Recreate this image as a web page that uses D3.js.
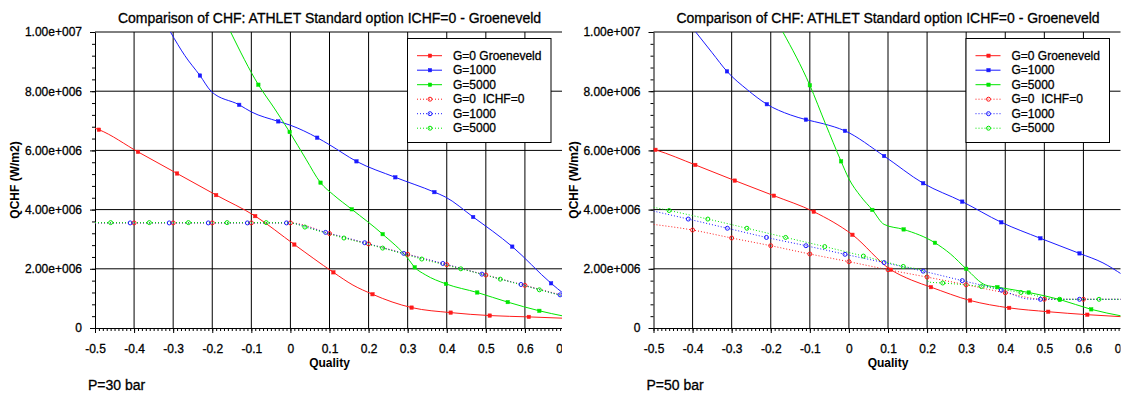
<!DOCTYPE html>
<html><head><meta charset="utf-8">
<script src="https://cdn.jsdelivr.net/npm/d3@7"></script>
<style>
html,body{margin:0;padding:0;background:#fff;}
svg{display:block;font-family:"Liberation Sans",Arial,sans-serif;}
text.t{stroke:#000;stroke-width:0.3px;}
</style></head><body>
<svg id="c" width="1127" height="405"></svg>
<script>
// ---------------- texts & ticks ----------------
const chartTitle = "Comparison of CHF: ATHLET Standard option ICHF=0 - Groeneveld";
const xLabel = "Quality";
const yLabel = "QCHF (W/m2)";
const panelLabels = ["P=30 bar", "P=50 bar"];
const xTicks = [-0.5, -0.4, -0.3, -0.2, -0.1, 0, 0.1, 0.2, 0.3, 0.4, 0.5, 0.6, 0.7];
const xTickLabels = ["-0.5", "-0.4", "-0.3", "-0.2", "-0.1", "0", "0.1", "0.2", "0.3", "0.4", "0.5", "0.6", "0.7"];
const yTicks = [0, 2e6, 4e6, 6e6, 8e6, 1e7];
const yTickLabels = ["0", "2.00e+006", "4.00e+006", "6.00e+006", "8.00e+006", "1.00e+007"];
const legendLabels = ["G=0 Groeneveld", "G=1000", "G=5000", "G=0  ICHF=0", "G=1000", "G=5000"];

// ---------------- data: [quality, QCHF, marker(1/0)] ----------------
// P = 30 bar, Groeneveld
const p30_groen_G0 = [[-0.5,6.75e6,0],[-0.49,6.70e6,1],[-0.39,5.95e6,1],[-0.29,5.22e6,1],[-0.19,4.49e6,1],[-0.09,3.78e6,1],[0.01,2.82e6,1],[0.11,1.88e6,1],[0.16,1.45e6,0],[0.21,1.14e6,1],[0.26,0.88e6,0],[0.31,0.69e6,1],[0.41,0.52e6,1],[0.51,0.42e6,1],[0.61,0.375e6,1],[0.7,0.33e6,0]];
const p30_groen_G1000 = [[-0.307,1.0e7,0],[-0.27,9.2e6,0],[-0.2315,8.53e6,1],[-0.203,8.0e6,0],[-0.131,7.54e6,1],[-0.1,7.3e6,0],[-0.031,6.98e6,1],[0.0,6.85e6,0],[0.0685,6.43e6,1],[0.1,6.19e6,0],[0.169,5.63e6,1],[0.2685,5.09e6,1],[0.3685,4.59e6,1],[0.396,4.43e6,0],[0.4676,3.75e6,1],[0.5676,2.75e6,1],[0.667,1.51e6,1],[0.7,1.15e6,0]];
const p30_groen_G5000 = [[-0.153,1.0e7,0],[-0.082,8.22e6,1],[-0.04,7.4e6,0],[-0.002,6.62e6,1],[0.04,5.7e6,0],[0.077,4.91e6,1],[0.11,4.5e6,0],[0.157,4.01e6,1],[0.236,3.17e6,1],[0.3,2.36e6,0],[0.318,2.05e6,1],[0.345,1.8e6,0],[0.398,1.49e6,1],[0.478,1.2e6,1],[0.556,0.875e6,1],[0.637,0.58e6,1],[0.7,0.40e6,0]];
// P = 30 bar, ICHF=0
const p30_ichf_G0 = [[-0.5,3.55e6,0],[-0.4,3.55e6,1],[-0.3,3.55e6,1],[-0.2,3.55e6,1],[-0.1,3.55e6,1],[0.0,3.55e6,1],[0.1,3.19e6,1],[0.2,2.84e6,1],[0.3,2.49e6,1],[0.4,2.14e6,1],[0.5,1.79e6,1],[0.6,1.44e6,1],[0.7,1.09e6,0]];
const p30_ichf_G1000 = [[-0.5,3.55e6,0],[-0.41,3.55e6,1],[-0.31,3.55e6,1],[-0.21,3.55e6,1],[-0.11,3.55e6,1],[-0.01,3.55e6,1],[0.09,3.23e6,1],[0.19,2.88e6,1],[0.29,2.52e6,1],[0.39,2.18e6,1],[0.49,1.82e6,1],[0.59,1.47e6,1],[0.69,1.12e6,1],[0.7,1.09e6,0]];
const p30_ichf_G5000 = [[-0.5,3.56e6,0],[-0.46,3.56e6,1],[-0.361,3.56e6,1],[-0.261,3.56e6,1],[-0.162,3.56e6,1],[-0.062,3.56e6,1],[0.0,3.55e6,0],[0.037,3.41e6,1],[0.137,3.04e6,1],[0.236,2.70e6,1],[0.336,2.33e6,1],[0.436,2.0e6,1],[0.537,1.65e6,1],[0.637,1.29e6,1],[0.7,1.07e6,0]];
// P = 50 bar, Groeneveld
const p50_groen_G0 = [[-0.5,6.04e6,0],[-0.495,6.02e6,1],[-0.393,5.51e6,1],[-0.292,4.98e6,1],[-0.192,4.47e6,1],[-0.09,3.93e6,1],[0.009,3.15e6,1],[0.107,1.97e6,1],[0.16,1.62e6,0],[0.21,1.38e6,1],[0.31,0.93e6,1],[0.41,0.68e6,1],[0.51,0.55e6,1],[0.61,0.45e6,1],[0.7,0.38e6,0]];
const p50_groen_G1000 = [[-0.392,1.0e7,0],[-0.35,9.3e6,0],[-0.312,8.67e6,1],[-0.26,8.05e6,0],[-0.21,7.56e6,1],[-0.15,7.2e6,0],[-0.11,7.04e6,1],[-0.065,6.9e6,0],[-0.01,6.66e6,1],[0.09,5.81e6,1],[0.19,4.89e6,1],[0.29,4.27e6,1],[0.39,3.57e6,1],[0.49,3.03e6,1],[0.59,2.52e6,1],[0.65,2.2e6,0],[0.7,1.8e6,0]];
const p50_groen_G5000 = [[-0.169,1.0e7,0],[-0.1,8.2e6,1],[-0.06,6.9e6,0],[-0.02,5.63e6,1],[0.0,5.04e6,0],[0.03,4.45e6,0],[0.06,3.99e6,1],[0.09,3.5e6,0],[0.14,3.33e6,1],[0.22,2.88e6,1],[0.26,2.5e6,0],[0.30,2.0e6,1],[0.35,1.45e6,0],[0.38,1.38e6,1],[0.46,1.2e6,1],[0.54,0.96e6,1],[0.62,0.63e6,1],[0.7,0.40e6,0]];
// P = 50 bar, ICHF=0
const p50_ichf_G0 = [[-0.5,3.5e6,0],[-0.4,3.31e6,1],[-0.3,3.04e6,1],[-0.2,2.78e6,1],[-0.1,2.5e6,1],[0.0,2.24e6,1],[0.1,1.97e6,1],[0.2,1.72e6,1],[0.3,1.46e6,1],[0.4,1.19e6,1],[0.5,0.97e6,1],[0.6,0.97e6,1],[0.7,0.97e6,0]];
const p50_ichf_G1000 = [[-0.5,3.95e6,0],[-0.411,3.68e6,1],[-0.311,3.37e6,1],[-0.211,3.06e6,1],[-0.11,2.78e6,1],[-0.01,2.49e6,1],[0.09,2.21e6,1],[0.19,1.92e6,1],[0.29,1.6e6,1],[0.39,1.28e6,1],[0.46,0.98e6,0],[0.49,0.97e6,1],[0.59,0.97e6,1],[0.7,0.97e6,0]];
const p50_ichf_G5000 = [[-0.5,4.08e6,0],[-0.46,3.97e6,1],[-0.361,3.68e6,1],[-0.261,3.37e6,1],[-0.162,3.06e6,1],[-0.062,2.75e6,1],[0.037,2.43e6,1],[0.139,2.08e6,1],[0.19,1.93e6,0],[0.205,1.55e6,0],[0.24,1.52e6,1],[0.339,1.4e6,1],[0.44,1.2e6,1],[0.539,0.97e6,1],[0.64,0.97e6,1],[0.7,0.97e6,0]];

const panels = [
  {label: panelLabels[0], series: [p30_groen_G0, p30_groen_G1000, p30_groen_G5000, p30_ichf_G0, p30_ichf_G1000, p30_ichf_G5000]},
  {label: panelLabels[1], series: [p50_groen_G0, p50_groen_G1000, p50_groen_G5000, p50_ichf_G0, p50_ichf_G1000, p50_ichf_G5000]}
];

// ---------------- styles ----------------
const colors = ["#ff1a1a", "#1a1aff", "#00e600", "#ff1a1a", "#1a1aff", "#00e600"];
const dotted = [false, false, false, true, true, true];
const panelOffsets = [0, 558.5];
const panelClipW = 562;

const svg = d3.select("#c");
const defs = svg.append("defs");
defs.append("clipPath").attr("id", "panelClip").append("rect")
  .attr("x", 0).attr("y", 0).attr("width", panelClipW).attr("height", 405);

const x = d3.scaleLinear().domain([-0.5, 0.7]).range([95, 564]);
const y = d3.scaleLinear().domain([0, 1e7]).range([328, 32]);
defs.append("clipPath").attr("id", "plotClip").append("rect")
  .attr("x", x(-0.5)).attr("y", y(1e7) - 1).attr("width", x(0.7) - x(-0.5)).attr("height", y(0) - y(1e7) + 1);

const line = d3.line().x(d => x(d[0])).y(d => y(d[1])).curve(d3.curveMonotoneX);

function drawMarker(g, cx, cy, i) {
  if (dotted[i]) {
    g.append("circle").attr("cx", cx).attr("cy", cy).attr("r", 2)
      .attr("fill", "none").attr("stroke", colors[i]).attr("stroke-width", 1);
  } else {
    g.append("rect").attr("x", cx - 1.7).attr("y", cy - 1.7).attr("width", 3.4).attr("height", 3.4)
      .attr("fill", colors[i]).attr("stroke", colors[i]).attr("stroke-width", 0.5);
  }
}

[1, 0].forEach(pi => {
  const P = panels[pi];
  const g = svg.append("g").attr("transform", `translate(${panelOffsets[pi]},0)`)
    .attr("clip-path", "url(#panelClip)");

  // title
  g.append("text").attr("class", "t").attr("x", (x(-0.5) + x(0.7)) / 2).attr("y", 23)
    .attr("text-anchor", "middle").attr("font-size", 14).attr("fill", "#000").text(chartTitle);

  // grid
  const grid = g.append("g").attr("stroke", "#000").attr("stroke-width", 1);
  xTicks.filter(t => t > -0.5).forEach(t => {
    grid.append("line").attr("x1", x(t)).attr("x2", x(t)).attr("y1", y(1e7)).attr("y2", y(0));
  });
  yTicks.filter(t => t > 0).forEach(t => {
    grid.append("line").attr("x1", x(-0.5)).attr("x2", x(0.7)).attr("y1", y(t)).attr("y2", y(t));
  });

  // minor ticks
  const xMinor = d3.axisBottom(x).tickValues(d3.range(-50, 71).map(k => k / 100)).tickSize(3).tickFormat("");
  g.append("g").attr("transform", `translate(0,${y(0)})`).call(xMinor).call(a => a.select(".domain").remove())
    .selectAll("line").attr("stroke", "#000");
  const yMinor = d3.axisLeft(y).tickValues(d3.range(0, 26).map(k => k * 4e5)).tickSize(3).tickFormat("");
  g.append("g").attr("transform", `translate(${x(-0.5)},0)`).call(yMinor).call(a => a.select(".domain").remove())
    .selectAll("line").attr("stroke", "#000");

  // major axes
  const xAxis = d3.axisBottom(x).tickValues(xTicks).tickFormat((d, i) => xTickLabels[i]).tickSize(5).tickPadding(11).tickSizeOuter(0);
  const xa = g.append("g").attr("transform", `translate(0,${y(0)})`).call(xAxis);
  xa.selectAll("text").attr("class", "t").attr("font-size", 12).attr("fill", "#000").attr("font-family", "Liberation Sans, Arial, sans-serif");
  xa.select(".domain").attr("stroke", "#000");
  const yAxis = d3.axisLeft(y).tickValues(yTicks).tickFormat((d, i) => yTickLabels[i]).tickSize(5).tickPadding(8).tickSizeOuter(0);
  const ya = g.append("g").attr("transform", `translate(${x(-0.5)},0)`).call(yAxis);
  ya.selectAll("text").attr("class", "t").attr("font-size", 12).attr("fill", "#000").attr("font-family", "Liberation Sans, Arial, sans-serif");
  ya.select(".domain").attr("stroke", "#000");

  // axis labels
  g.append("text").attr("x", (x(-0.5) + x(0.7)) / 2).attr("y", 367).attr("text-anchor", "middle")
    .attr("font-size", 12).attr("font-weight", "bold").text(xLabel);
  g.append("text").attr("transform", `translate(19,180) rotate(-90)`).attr("text-anchor", "middle")
    .attr("font-size", 12).attr("font-weight", "bold").text(yLabel);

  // series
  const plot = g.append("g").attr("clip-path", "url(#plotClip)");
  P.series.forEach((s, i) => {
    plot.append("path").datum(s).attr("d", line).attr("fill", "none")
      .attr("stroke", colors[i]).attr("stroke-width", 1)
      .attr("stroke-dasharray", dotted[i] ? "1,2" : null);
  });
  P.series.forEach((s, i) => {
    s.filter(d => d[2] === 1).forEach(d => drawMarker(plot, x(d[0]), y(d[1]), i));
  });

  // legend
  const lg = g.append("g");
  lg.append("rect").attr("x", 407.5).attr("y", 38.5).attr("width", 143.5).attr("height", 104)
    .attr("fill", "#fff").attr("stroke", "#000").attr("stroke-width", 1);
  legendLabels.forEach((lab, i) => {
    const cy = 55.7 + i * 14.5;
    lg.append("line").attr("x1", 417).attr("x2", 442).attr("y1", cy).attr("y2", cy)
      .attr("stroke", colors[i]).attr("stroke-width", 1).attr("stroke-dasharray", dotted[i] ? "1,2" : null);
    drawMarker(lg, 430, cy, i);
    lg.append("text").attr("class", "t").attr("x", 453).attr("y", cy + 4).attr("font-size", 12)
      .attr("xml:space", "preserve").style("white-space", "pre").text(lab);
  });

  // panel label
  g.append("text").attr("class", "t").attr("x", 88).attr("y", 390).attr("font-size", 14).text(P.label);
});
</script>
</body></html>
